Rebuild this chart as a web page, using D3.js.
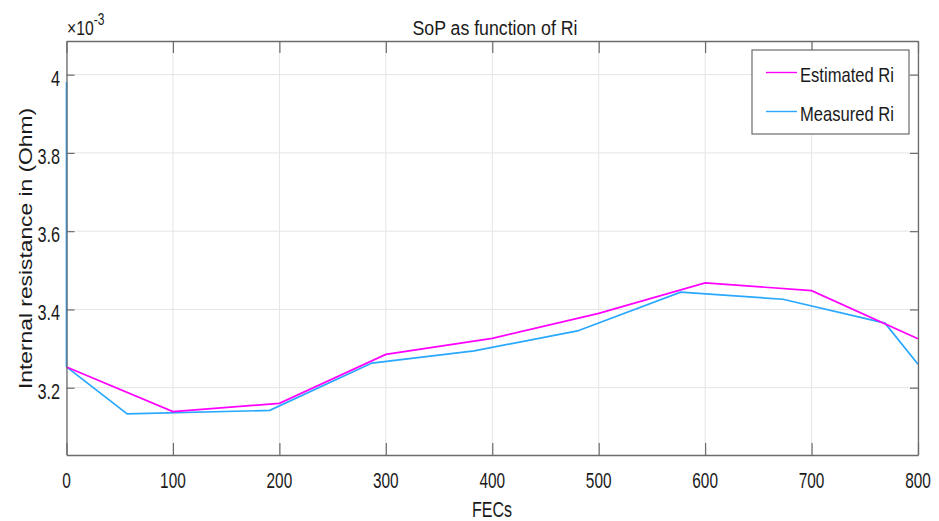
<!DOCTYPE html>
<html>
<head>
<meta charset="utf-8">
<script src="https://cdn.jsdelivr.net/npm/d3@7"></script>
<style>
  html, body { margin: 0; padding: 0; background: #fff; }
  svg { display: block; font-family: "Liberation Sans", Arial, sans-serif; }
</style>
</head>
<body>
<svg id="chart" width="939" height="521"></svg>
<script>
// Internal resistance (x1e-3 Ohm) against full equivalent cycles
const estimatedFEC = [0, 100, 200, 300, 400, 500, 600, 700, 800];
const estimatedRi  = [3.253, 3.139, 3.160, 3.285, 3.326, 3.39, 3.468, 3.448, 3.325];

const measuredFEC = [0, 0, 57, 191, 287, 383, 480, 577, 673, 769, 800];
const measuredRi  = [3.981, 3.253, 3.133, 3.142, 3.263, 3.294, 3.345, 3.444, 3.426, 3.365, 3.260];

const xTicks = [0, 100, 200, 300, 400, 500, 600, 700, 800];
const yTicks = [3.2, 3.4, 3.6, 3.8, 4.0];
const yTickLabels = ["3.2", "3.4", "3.6", "3.8", "4"];

const seriesNames = ["Estimated Ri", "Measured Ri"];
const seriesColors = ["#ff00ff", "#29a8ff"];

const svg = d3.select("#chart");
const plot = { left: 66.5, right: 918, top: 41, bottom: 455 };

const x = d3.scaleLinear().domain([0, 800]).range([plot.left, plot.right]);
const y = d3.scaleLinear().domain([3.028, 4.086]).range([plot.bottom, plot.top]);

const axisColor = "#6b6b6b";
const gridColor = "#e4e4e4";
const textColor = "#1a1a1a";

// grid
const grid = svg.append("g");
grid.selectAll(".gx").data(xTicks).join("line")
  .attr("x1", d => x(d)).attr("x2", d => x(d))
  .attr("y1", plot.top).attr("y2", plot.bottom)
  .attr("stroke", gridColor).attr("stroke-width", 1);
grid.selectAll(".gy").data(yTicks).join("line")
  .attr("x1", plot.left).attr("x2", plot.right)
  .attr("y1", d => y(d)).attr("y2", d => y(d))
  .attr("stroke", gridColor).attr("stroke-width", 1);

// data lines
const line = d3.line().x(d => x(d[0])).y(d => y(d[1]));
const estData = estimatedFEC.map((v, i) => [v, estimatedRi[i]]);
const measData = measuredFEC.map((v, i) => [v, measuredRi[i]]);

svg.append("path").datum(measData)
  .attr("d", line).attr("fill", "none")
  .attr("stroke", seriesColors[1]).attr("stroke-width", 1.7);
svg.append("path").datum(estData)
  .attr("d", line).attr("fill", "none")
  .attr("stroke", seriesColors[0]).attr("stroke-width", 1.7);

// axes with inward ticks on all four sides (labels drawn separately)
const bottomAxis = svg.append("g").attr("transform", `translate(0,${plot.bottom})`)
  .call(d3.axisBottom(x).tickValues(xTicks).tickSize(-12).tickFormat("").tickSizeOuter(0));
const topAxis = svg.append("g").attr("transform", `translate(0,${plot.top})`)
  .call(d3.axisTop(x).tickValues(xTicks).tickSize(-12).tickFormat("").tickSizeOuter(0));
const leftAxis = svg.append("g").attr("transform", `translate(${plot.left},0)`)
  .call(d3.axisLeft(y).tickValues(yTicks).tickSize(-8).tickFormat("").tickSizeOuter(0));
const rightAxis = svg.append("g").attr("transform", `translate(${plot.right},0)`)
  .call(d3.axisRight(y).tickValues(yTicks).tickSize(-8).tickFormat("").tickSizeOuter(0));

[bottomAxis, topAxis, leftAxis, rightAxis].forEach(g => {
  g.select(".domain").attr("stroke", axisColor).attr("stroke-width", 1.3);
  g.selectAll(".tick line").attr("stroke", axisColor).attr("stroke-width", 1.2);
});

// tick labels
svg.append("g").selectAll("text").data(xTicks).join("text")
  .attr("transform", d => `translate(${x(d)},488) scale(0.7,1)`)
  .attr("text-anchor", "middle").attr("fill", textColor)
  .style("font-size", "22px").text(d => d);
svg.append("g").selectAll("text").data(yTicks).join("text")
  .attr("transform", d => `translate(60,${y(d) + 11}) scale(0.74,1)`)
  .attr("text-anchor", "end").attr("fill", textColor)
  .style("font-size", "22px").text((d, i) => yTickLabels[i]);

// exponent label
const expo = svg.append("text").attr("transform", `translate(67,35) scale(0.75,1)`)
  .attr("fill", textColor).style("font-size", "21px");
expo.append("tspan").text("\u00d710");
expo.append("tspan").attr("dy", -10).style("font-size", "16px").text("-3");

// title
svg.append("text").attr("x", 495).attr("y", 35).attr("text-anchor", "middle")
  .attr("textLength", 165).attr("lengthAdjust", "spacingAndGlyphs")
  .attr("fill", textColor).style("font-size", "19.5px").text("SoP as function of Ri");

// axis labels
svg.append("text").attr("transform", `translate(492,517) scale(0.74,1)`)
  .attr("text-anchor", "middle")
  .attr("fill", textColor).style("font-size", "21.7px").text("FECs");
svg.append("text")
  .attr("transform", `translate(31.5,248.5) scale(0.8,1) rotate(-90)`)
  .attr("text-anchor", "middle")
  .attr("textLength", 281).attr("lengthAdjust", "spacingAndGlyphs")
  .attr("fill", textColor).style("font-size", "22.8px")
  .text("Internal resistance in (Ohm)");

// legend
const legend = svg.append("g");
legend.append("rect").attr("x", 752).attr("y", 50).attr("width", 157).attr("height", 84)
  .attr("fill", "#fff").attr("stroke", axisColor).attr("stroke-width", 1.2);
seriesNames.forEach((name, i) => {
  const ly = 72.5 + i * 39;
  legend.append("line").attr("x1", 766).attr("x2", 797).attr("y1", ly).attr("y2", ly)
    .attr("stroke", seriesColors[i]).attr("stroke-width", 1.4);
  legend.append("text").attr("x", 800).attr("y", ly + 9)
    .attr("textLength", 94).attr("lengthAdjust", "spacingAndGlyphs")
    .attr("fill", textColor).style("font-size", "21px").text(name);
});
</script>
</body>
</html>
